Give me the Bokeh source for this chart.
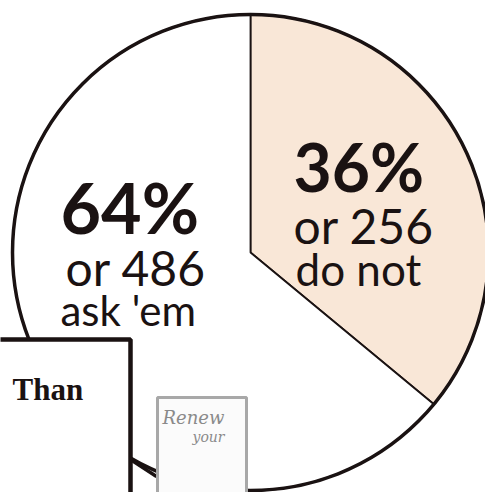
import numpy as np
from bokeh.plotting import figure
from bokeh.models import Range1d, ColumnDataSource
from bokeh.core.properties import value
from bokeh.embed import file_html
from bokeh.resources import INLINE

# ---- data ----
labels = ["do not", "ask 'em"]
percents = [36, 64]
counts = [256, 486]

# ---- styles ----
fills = ["#f9e7d7", "#ffffff"]
ink = "#1a1212"

W, H = 485, 492
p = figure(width=W, height=H, output_backend="svg", toolbar_location=None,
           x_range=Range1d(0, W), y_range=Range1d(0, H),
           min_border=0, background_fill_color="white")
p.axis.visible = False
p.grid.visible = False
p.outline_line_color = None

def Y(py):
    return 492 - py

def txt(x, base_py, s, size, font="Lato", style="normal", color=ink):
    # compensate baseline offset seen in the svg renderer
    p.text(x=[x], y=[Y(base_py - 0.37 * size)], text=[s], text_font=value(font),
           text_font_style=style, text_font_size=f"{size}px", text_color=color,
           text_baseline="alphabetic")

cx, cy, r = 250, Y(252), 238

frac = np.array(percents, dtype=float) / sum(percents)
cum = np.concatenate([[0], np.cumsum(frac)])
start = np.pi / 2 - cum[:-1] * 2 * np.pi
end = np.pi / 2 - cum[1:] * 2 * np.pi
src = ColumnDataSource(dict(label=labels, start=start, end=end, fill=fills))
p.wedge(x=cx, y=cy, radius=r, start_angle="start", end_angle="end",
        direction="clock", fill_color="fill", line_color=ink, line_width=1.8,
        source=src)
p.circle(x=[cx], y=[cy], radius=r, fill_color=None, line_color=ink, line_width=3.5)

# labels for the "do not" slice
txt(293, 190, f"{percents[0]}%", 66, style="bold")
txt(293, 243, f"or {counts[0]}", 48)
txt(295, 285, labels[0], 44)
# labels for the "ask 'em" slice
txt(60, 232, f"{percents[1]}%", 70, style="bold")
txt(65, 285, f"or {counts[1]}", 48)
txt(60, 325, labels[1], 42)

# overlapping page fragments at the bottom left
p.segment(x0=[130], y0=[Y(459)], x1=[156], y1=[Y(476)], line_color=ink, line_width=3.5)
p.quad(left=[-20], right=[130], top=[Y(339)], bottom=[-20],
       fill_color="white", line_color=ink, line_width=4.5)
txt(12, 400, "Than", 31, font="Liberation Serif", style="bold")
p.quad(left=[157], right=[246], top=[Y(397)], bottom=[-20],
       fill_color="#fbfbfb", line_color="#a8a8a8", line_width=3)
txt(162, 424, "Renew", 18, font="DejaVu Serif", style="italic", color="#8a8a8a")
txt(192, 442, "your", 14, font="DejaVu Serif", style="italic", color="#8a8a8a")

open("out.html", "w").write(file_html(p, INLINE))
